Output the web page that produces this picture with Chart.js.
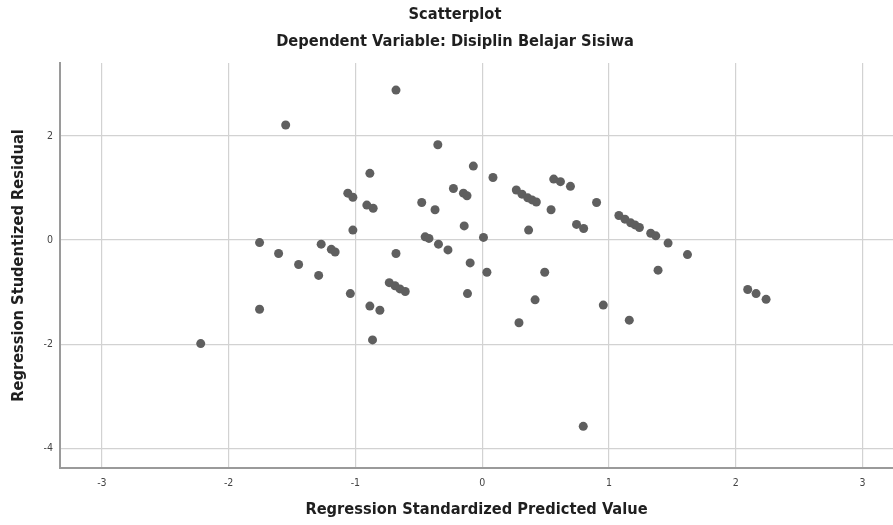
<!DOCTYPE html>
<html>
<head>
<meta charset="utf-8">
<script src="https://cdn.jsdelivr.net/npm/chart.js@4.4.1/dist/chart.umd.min.js"></script>
<style>
  html, body { margin: 0; padding: 0; background: #fff; }
  #wrap { width: 893px; height: 525px; position: relative; }
</style>
</head>
<body>
<div id="wrap"><canvas id="scatter"></canvas></div>
<script>
const chartTitle = "Scatterplot";
const chartSubtitle = "Dependent Variable: Disiplin Belajar Sisiwa";
const xTitle = "Regression Standardized Predicted Value";
const yTitle = "Regression Studentized Residual";

const xTicks = [-3, -2, -1, 0, 1, 2, 3];
const yTicks = [-4, -2, 0, 2];

// standardized predicted value
const predicted = [
  -1.55, -0.68, -0.35, -0.07, -0.886, -1.06, -1.02, -0.227, -0.148, -0.12,
  -0.91, -0.86, -0.477, -0.372, -0.142, -1.02, -1.756, -0.45, -0.42, -0.345,
  -0.27, -1.27, -1.19, -1.16, -1.606, -1.448, -1.29, -0.68, -0.095, -0.733,
  -0.688, -0.649, -0.607, -1.04, -0.116, -1.756, -0.886, -0.807, -2.22, -0.865,
  0.085, 0.269, 0.314, 0.359, 0.393, 0.427, 0.564, 0.617, 0.696, 0.543,
  0.902, 0.744, 0.80, 1.078, 1.126, 1.171, 1.205, 1.24, 1.329, 1.369,
  1.466, 1.619, 1.387, 0.01, 0.366, 0.037, 0.493, 0.417, 0.29, 0.955,
  1.16, 2.094, 2.16, 2.239, 0.797
];

// studentized residual
const residual = [
  2.21, 2.88, 1.83, 1.42, 1.28, 0.90, 0.82, 0.99, 0.90, 0.85,
  0.67, 0.61, 0.72, 0.58, 0.27, 0.19, -0.05, 0.06, 0.03, -0.08,
  -0.19, -0.08, -0.18, -0.23, -0.26, -0.47, -0.68, -0.26, -0.44, -0.82,
  -0.88, -0.94, -0.99, -1.03, -1.03, -1.33, -1.27, -1.35, -1.99, -1.92,
  1.20, 0.96, 0.88, 0.81, 0.77, 0.73, 1.17, 1.12, 1.03, 0.58,
  0.72, 0.30, 0.22, 0.47, 0.40, 0.33, 0.29, 0.24, 0.13, 0.08,
  -0.06, -0.28, -0.58, 0.05, 0.19, -0.62, -0.62, -1.15, -1.59, -1.25,
  -1.54, -0.95, -1.03, -1.14, -3.58
];

const points = predicted.map((x, i) => ({ x: x, y: residual[i] }));

const fontFamily = '"DejaVu Sans Condensed", "Liberation Sans Narrow", "Liberation Sans", Arial, sans-serif';
const titleSize = 16.3;

// titulos no topo
const topTitles = {
  id: "topTitles",
  afterDraw(chart) {
    const ctx = chart.ctx;
    ctx.save();
    ctx.fillStyle = "#1f1f1f";
    ctx.textAlign = "center";
    ctx.textBaseline = "middle";
    ctx.font = "bold " + titleSize + "px " + fontFamily;
    ctx.fillText(chartTitle, 455, 15);
    ctx.fillText(chartSubtitle, 455, 42);
    ctx.restore();
  }
};

new Chart(document.getElementById("scatter"), {
  type: "scatter",
  data: {
    datasets: [{
      data: points,
      backgroundColor: "#5f5f5f",
      borderWidth: 0,
      pointRadius: 4.5,
      pointHoverRadius: 4.5
    }]
  },
  options: {
    responsive: true,
    maintainAspectRatio: false,
    animation: false,
    layout: { autoPadding: false, padding: { top: 63, right: 0, left: 0, bottom: 0 } },
    plugins: {
      legend: { display: false },
      tooltip: { enabled: false }
    },
    scales: {
      x: {
        type: "linear",
        min: -3.33,
        max: 3.24,
        afterBuildTicks: axis => { axis.ticks = xTicks.map(v => ({ value: v })); },
        afterFit: axis => { axis.height = 57; },
        grid: { color: "#d2d2d2", lineWidth: 1.2, drawTicks: false },
        border: { color: "#9a9a9a", width: 2 },
        ticks: {
          padding: 9,
          color: "#444",
          font: { family: fontFamily, size: 10.5 },
          maxRotation: 0
        },
        title: {
          display: true,
          text: xTitle,
          color: "#1f1f1f",
          font: { family: fontFamily, size: titleSize, weight: "bold" },
          padding: { top: 0, bottom: 5 }
        }
      },
      y: {
        type: "linear",
        min: -4.38,
        max: 3.40,
        afterBuildTicks: axis => { axis.ticks = yTicks.map(v => ({ value: v })); },
        afterFit: axis => { axis.width = 60; },
        grid: { color: "#d2d2d2", lineWidth: 1.2, drawTicks: false },
        border: { color: "#9a9a9a", width: 2 },
        ticks: {
          padding: 7,
          color: "#444",
          font: { family: fontFamily, size: 10.5 }
        },
        title: {
          display: true,
          text: yTitle,
          color: "#1f1f1f",
          font: { family: fontFamily, size: titleSize, weight: "bold" },
          padding: { top: 9, bottom: 0 }
        }
      }
    }
  },
  plugins: [topTitles]
});
</script>
</body>
</html>
